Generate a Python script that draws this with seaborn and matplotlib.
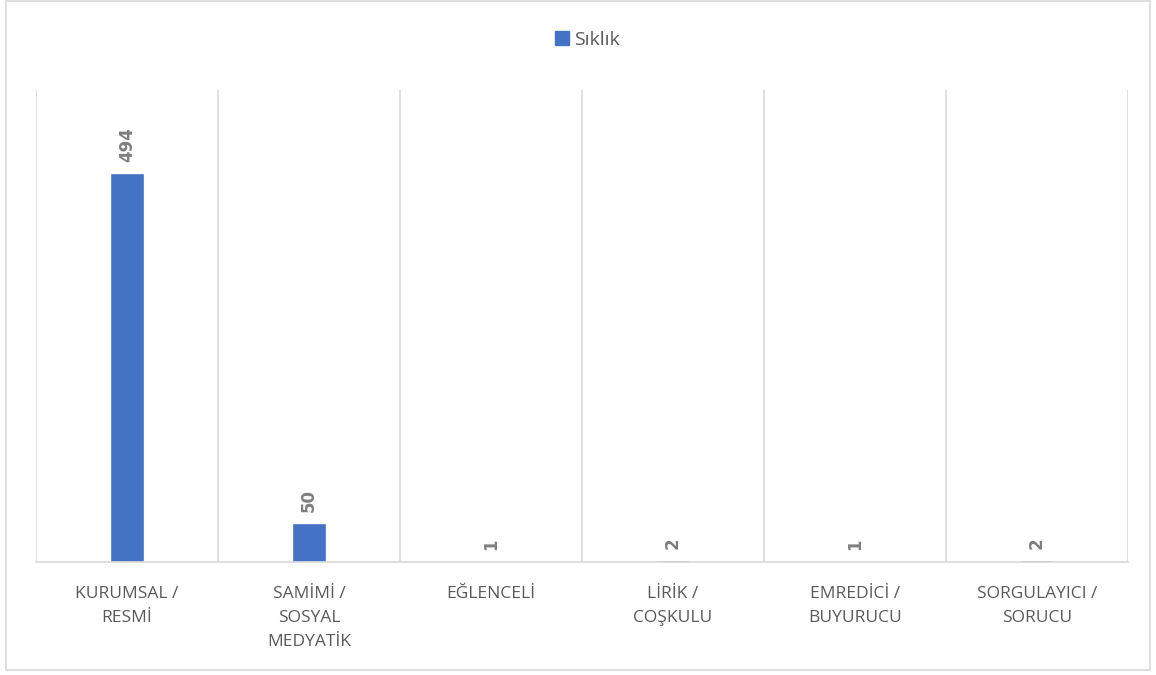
import matplotlib
matplotlib.use("Agg")
import matplotlib.pyplot as plt
import seaborn as sns
import pandas as pd
from matplotlib.patches import Rectangle, Patch

categories = ["KURUMSAL /\nRESMİ", "SAMİMİ /\nSOSYAL\nMEDYATİK", "EĞLENCELİ",
              "LİRİK /\nCOŞKULU", "EMREDİCİ /\nBUYURUCU", "SORGULAYICI /\nSORUCU"]
values = [494, 50, 1, 2, 1, 2]
series_name = "Sıklık"

df = pd.DataFrame({"category": categories, "value": values})

sns.set_theme(style="white")
plt.rcParams["font.family"] = ["Open Sans", "DejaVu Sans"]

fig = plt.figure(figsize=(11.56, 6.75), dpi=100)
ax = fig.add_axes([36/1156, 1-562/675, (1128-36)/1156, (562-90)/675])

bar_color = "#4472C4"
sns.barplot(data=df, x="category", y="value", color=bar_color, width=0.19, ax=ax,
            saturation=1, order=categories)

ax.set_ylim(0, 600)
ax.set_xlim(-0.5, len(categories) - 0.5)
ax.set_xlabel("")
ax.set_ylabel("")
ax.set_yticks([])

# vertical gridlines at category boundaries
ax.set_xticks([i - 0.5 for i in range(len(categories) + 1)], minor=True)
ax.grid(True, which="minor", axis="x", color="#d9d9d9", linewidth=1.2)
ax.grid(False, which="major")
ax.tick_params(axis="x", which="both", length=0, pad=17)
ax.set_xticklabels(categories, color="#595959", fontsize=12.5, linespacing=1.7, va="top")

for s in ["top", "left", "right"]:
    ax.spines[s].set_visible(False)
ax.spines["bottom"].set_color("#d9d9d9")
ax.spines["bottom"].set_linewidth(1.2)

for c in ax.containers:
    ax.bar_label(c, labels=[str(v) for v in values], rotation=90, padding=8,
                 fontsize=12, fontweight="bold", color="#7f7f7f", family="DejaVu Sans")

handle = Patch(facecolor=bar_color, edgecolor=bar_color)
fig.legend([handle], [series_name], loc="center", bbox_to_anchor=(0.508, 1 - 40/675),
           frameon=False, fontsize=14, handlelength=0.7, handleheight=0.7,
           handletextpad=0.25, labelcolor="#595959")

fig.patches.append(Rectangle((6/1156, 5/675), 1144/1156, 669/675, transform=fig.transFigure,
                             fill=False, edgecolor="#d9d9d9", linewidth=1.2))

fig.savefig("out.png", dpi=100, facecolor="white")
